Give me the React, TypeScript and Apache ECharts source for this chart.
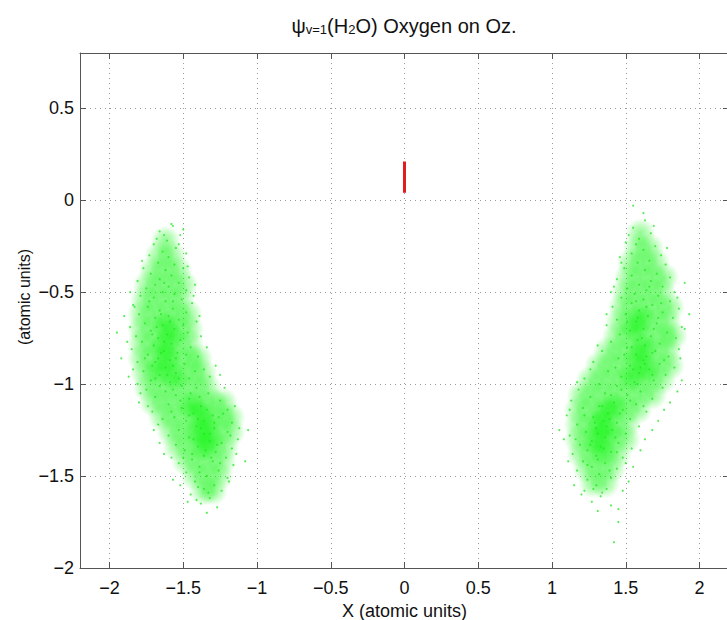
import React, { useEffect, useRef } from "react";
import * as echarts from "echarts";

// ---- data ----
const X_RANGE = [-2.2, 2.2];
const Y_RANGE = [-2, 0.8];

// red marker at x = 0
const redSegment: [number, number][] = [
  [0, 0.04],
  [0, 0.21],
];

// dense body of the left cloud (where the points pile up)
const leftBody: [number, number][] = [
  [-1.62, -0.22],
  [-1.66, -0.3], [-1.58, -0.3],
  [-1.7, -0.38], [-1.62, -0.38], [-1.54, -0.38],
  [-1.74, -0.46], [-1.66, -0.46], [-1.58, -0.46], [-1.5, -0.46],
  [-1.76, -0.54], [-1.68, -0.54], [-1.6, -0.54], [-1.52, -0.54],
  [-1.78, -0.62], [-1.7, -0.62], [-1.62, -0.62], [-1.54, -0.62], [-1.47, -0.62],
  [-1.78, -0.7], [-1.7, -0.7], [-1.62, -0.7], [-1.54, -0.7], [-1.46, -0.7],
  [-1.78, -0.78], [-1.7, -0.78], [-1.62, -0.78], [-1.54, -0.78], [-1.46, -0.78],
  [-1.78, -0.86], [-1.7, -0.86], [-1.62, -0.86], [-1.54, -0.86], [-1.46, -0.86], [-1.4, -0.86],
  [-1.76, -0.94], [-1.68, -0.94], [-1.6, -0.94], [-1.52, -0.94], [-1.44, -0.94], [-1.37, -0.94],
  [-1.74, -1.02], [-1.66, -1.02], [-1.58, -1.02], [-1.5, -1.02], [-1.42, -1.02], [-1.34, -1.02],
  [-1.7, -1.1], [-1.62, -1.1], [-1.54, -1.1], [-1.46, -1.1], [-1.38, -1.1], [-1.3, -1.1], [-1.23, -1.1],
  [-1.64, -1.18], [-1.56, -1.18], [-1.48, -1.18], [-1.4, -1.18], [-1.32, -1.18], [-1.24, -1.18], [-1.18, -1.18],
  [-1.58, -1.26], [-1.5, -1.26], [-1.42, -1.26], [-1.34, -1.26], [-1.26, -1.26], [-1.18, -1.26],
  [-1.54, -1.34], [-1.46, -1.34], [-1.38, -1.34], [-1.3, -1.34], [-1.22, -1.34],
  [-1.48, -1.42], [-1.4, -1.42], [-1.32, -1.42], [-1.24, -1.42],
  [-1.42, -1.5], [-1.34, -1.5], [-1.26, -1.5],
  [-1.36, -1.58], [-1.3, -1.58],
  [-1.64, -0.8], [-1.6, -0.86], [-1.66, -0.92], [-1.58, -0.74], [-1.62, -0.68], [-1.56, -0.96],
  [-1.38, -1.16], [-1.34, -1.22], [-1.4, -1.26], [-1.32, -1.3], [-1.44, -1.12], [-1.36, -1.34],
];

// dense body of the right cloud
const rightBody: [number, number][] = [
  [1.6, -0.18],
  [1.58, -0.26], [1.66, -0.26],
  [1.54, -0.34], [1.62, -0.34], [1.7, -0.34],
  [1.52, -0.42], [1.6, -0.42], [1.68, -0.42], [1.76, -0.42],
  [1.5, -0.5], [1.58, -0.5], [1.66, -0.5], [1.74, -0.5],
  [1.48, -0.58], [1.56, -0.58], [1.64, -0.58], [1.72, -0.58], [1.8, -0.58],
  [1.46, -0.66], [1.54, -0.66], [1.62, -0.66], [1.7, -0.66], [1.78, -0.66],
  [1.44, -0.74], [1.52, -0.74], [1.6, -0.74], [1.68, -0.74], [1.76, -0.74], [1.82, -0.74],
  [1.38, -0.82], [1.46, -0.82], [1.54, -0.82], [1.62, -0.82], [1.7, -0.82], [1.78, -0.82],
  [1.32, -0.9], [1.4, -0.9], [1.48, -0.9], [1.56, -0.9], [1.64, -0.9], [1.72, -0.9], [1.8, -0.9],
  [1.26, -0.98], [1.34, -0.98], [1.42, -0.98], [1.5, -0.98], [1.58, -0.98], [1.66, -0.98], [1.74, -0.98],
  [1.2, -1.06], [1.28, -1.06], [1.36, -1.06], [1.44, -1.06], [1.52, -1.06], [1.6, -1.06], [1.68, -1.06],
  [1.18, -1.14], [1.26, -1.14], [1.34, -1.14], [1.42, -1.14], [1.5, -1.14], [1.58, -1.14],
  [1.18, -1.22], [1.26, -1.22], [1.34, -1.22], [1.42, -1.22], [1.5, -1.22],
  [1.18, -1.3], [1.26, -1.3], [1.34, -1.3], [1.42, -1.3], [1.5, -1.3],
  [1.2, -1.38], [1.28, -1.38], [1.36, -1.38], [1.44, -1.38],
  [1.24, -1.46], [1.32, -1.46], [1.4, -1.46],
  [1.28, -1.54], [1.36, -1.54],
  [1.62, -0.8], [1.58, -0.86], [1.64, -0.92], [1.56, -0.7], [1.6, -0.64], [1.54, -0.96],
  [1.36, -1.16], [1.32, -1.22], [1.38, -1.26], [1.3, -1.3], [1.42, -1.12], [1.34, -1.36],
];

// individual speckles, left cloud
const leftSpeckles: [number, number][] = [
  [-1.58, -0.13], [-1.66, -0.17], [-1.52, -0.19], [-1.61, -0.22], [-1.7, -0.24], [-1.55, -0.26],
  [-1.64, -0.28], [-1.48, -0.29], [-1.73, -0.3], [-1.6, -0.31],
  [-1.78, -0.33], [-1.67, -0.34], [-1.56, -0.35], [-1.5, -0.37], [-1.62, -0.38], [-1.72, -0.4],
  [-1.58, -0.41], [-1.46, -0.42], [-1.66, -0.43], [-1.81, -0.44], [-1.53, -0.45], [-1.69, -0.46],
  [-1.6, -0.47], [-1.75, -0.48], [-1.48, -0.49], [-1.64, -0.5], [-1.56, -0.51], [-1.86, -0.5],
  [-1.42, -0.46],
  [-1.79, -0.52], [-1.7, -0.53], [-1.51, -0.54], [-1.62, -0.55], [-1.44, -0.56], [-1.84, -0.57],
  [-1.74, -0.58], [-1.57, -0.59], [-1.66, -0.6], [-1.48, -0.61], [-1.8, -0.62], [-1.6, -0.63],
  [-1.69, -0.64], [-1.53, -0.65], [-1.41, -0.66], [-1.76, -0.67], [-1.64, -0.68], [-1.86, -0.69],
  [-1.56, -0.7], [-1.72, -0.71], [-1.47, -0.72], [-1.61, -0.73], [-1.82, -0.74], [-1.67, -0.75],
  [-1.52, -0.76], [-1.38, -0.74], [-1.9, -0.63],
  [-1.78, -0.77], [-1.58, -0.78], [-1.7, -0.79], [-1.45, -0.8], [-1.85, -0.81], [-1.63, -0.82],
  [-1.54, -0.83], [-1.74, -0.84], [-1.4, -0.85], [-1.67, -0.86], [-1.59, -0.87], [-1.81, -0.88],
  [-1.49, -0.89], [-1.71, -0.9], [-1.62, -0.91], [-1.36, -0.92], [-1.77, -0.93], [-1.55, -0.94],
  [-1.66, -0.95], [-1.87, -0.96], [-1.46, -0.97], [-1.72, -0.98], [-1.59, -0.99], [-1.81, -1.0],
  [-1.51, -1.01], [-1.65, -0.83], [-1.57, -0.9], [-1.69, -0.97], [-1.32, -0.96], [-1.92, -0.86],
  [-1.41, -1.02], [-1.75, -1.03], [-1.62, -1.04], [-1.33, -1.05], [-1.55, -1.06], [-1.69, -1.07],
  [-1.46, -1.08], [-1.25, -1.09], [-1.8, -1.1], [-1.6, -1.11], [-1.38, -1.12], [-1.51, -1.13],
  [-1.2, -1.14], [-1.71, -1.15], [-1.43, -1.16], [-1.3, -1.17], [-1.56, -1.18], [-1.64, -1.19],
  [-1.36, -1.2], [-1.17, -1.21], [-1.48, -1.2], [-1.26, -1.18],
  [-1.67, -1.22], [-1.41, -1.23], [-1.29, -1.24], [-1.53, -1.25], [-1.2, -1.26], [-1.36, -1.27],
  [-1.6, -1.28], [-1.46, -1.29], [-1.13, -1.3], [-1.32, -1.31], [-1.24, -1.32], [-1.55, -1.33],
  [-1.4, -1.34], [-1.17, -1.35], [-1.49, -1.36], [-1.28, -1.37], [-1.63, -1.38], [-1.36, -1.39],
  [-1.21, -1.4], [-1.44, -1.41],
  [-1.3, -1.42], [-1.53, -1.43], [-1.16, -1.44], [-1.39, -1.45], [-1.26, -1.47], [-1.48, -1.48],
  [-1.34, -1.5], [-1.2, -1.51], [-1.42, -1.53], [-1.29, -1.55], [-1.57, -1.52], [-1.36, -1.57],
  [-1.24, -1.58], [-1.45, -1.6],
  [-1.32, -1.62], [-1.38, -1.65], [-1.27, -1.67], [-1.34, -1.7], [-1.41, -1.63],
  [-1.95, -0.72], [-1.06, -1.25], [-1.08, -1.42], [-1.5, -0.16], [-1.25, -0.95],
  [-1.83, -0.58], [-1.88, -0.77], [-1.84, -0.92], [-1.79, -1.05], [-1.74, -1.12], [-1.7, -1.25],
  [-1.66, -1.32], [-1.58, -1.4], [-1.52, -1.55], [-1.47, -1.64], [-1.19, -1.53], [-1.14, -1.38],
  [-1.12, -1.24], [-1.15, -1.12], [-1.22, -1.02], [-1.28, -0.9], [-1.34, -0.8], [-1.39, -0.63],
  [-1.43, -0.52], [-1.47, -0.36], [-1.53, -0.24], [-1.68, -0.21], [-1.77, -0.37], [-1.57, -0.14],
  [-1.63, -0.19],
  [-1.65, -0.62], [-1.59, -0.66], [-1.71, -0.73], [-1.63, -0.77], [-1.55, -0.86], [-1.69, -0.88],
  [-1.61, -0.95], [-1.53, -0.97], [-1.66, -1.01], [-1.57, -1.03], [-1.45, -1.05], [-1.39, -1.07],
  [-1.52, -1.09], [-1.34, -1.14], [-1.46, -1.17], [-1.4, -1.19], [-1.29, -1.21], [-1.38, -1.24],
  [-1.32, -1.27], [-1.43, -1.3], [-1.27, -1.33], [-1.35, -1.36], [-1.44, -1.38], [-1.31, -1.4],
  [-1.39, -1.48], [-1.25, -1.43], [-1.73, -0.55], [-1.63, -0.45], [-1.57, -0.55], [-1.68, -0.69],
  [-1.5, -0.68], [-1.76, -0.86], [-1.48, -0.84], [-1.42, -0.93], [-1.58, -1.15], [-1.23, -1.16],
  [-1.18, -1.28], [-1.5, -1.4], [-1.33, -1.59], [-1.4, -1.56],
];

// individual speckles, right cloud
const rightSpeckles: [number, number][] = [
  [1.63, -0.11], [1.55, -0.15], [1.67, -0.18], [1.59, -0.21], [1.5, -0.23], [1.7, -0.25],
  [1.62, -0.27], [1.54, -0.29], [1.74, -0.3], [1.46, -0.31],
  [1.66, -0.33], [1.58, -0.34], [1.77, -0.35], [1.49, -0.37], [1.63, -0.38], [1.71, -0.4],
  [1.54, -0.41], [1.8, -0.42], [1.44, -0.43], [1.67, -0.44], [1.59, -0.46], [1.75, -0.47],
  [1.51, -0.48], [1.64, -0.49], [1.83, -0.5], [1.4, -0.5], [1.56, -0.51],
  [1.72, -0.52], [1.47, -0.53], [1.62, -0.54], [1.8, -0.55], [1.54, -0.56], [1.68, -0.57],
  [1.41, -0.58], [1.86, -0.59], [1.59, -0.6], [1.75, -0.61], [1.5, -0.62], [1.65, -0.63],
  [1.82, -0.64], [1.44, -0.65], [1.57, -0.66], [1.71, -0.67], [1.37, -0.68], [1.88, -0.69],
  [1.62, -0.7], [1.53, -0.71], [1.78, -0.72], [1.46, -0.73], [1.67, -0.74], [1.84, -0.75],
  [1.58, -0.76], [1.93, -0.62],
  [1.4, -0.77], [1.73, -0.78], [1.63, -0.79], [1.51, -0.8], [1.86, -0.81], [1.34, -0.82],
  [1.68, -0.83], [1.57, -0.84], [1.79, -0.85], [1.45, -0.86], [1.62, -0.87], [1.28, -0.88],
  [1.73, -0.89], [1.53, -0.9], [1.83, -0.91], [1.66, -0.92], [1.38, -0.93], [1.59, -0.94],
  [1.77, -0.95], [1.47, -0.96], [1.22, -0.97], [1.69, -0.98], [1.56, -0.99], [1.88, -0.98],
  [1.32, -1.0], [1.64, -0.85], [1.6, -0.91],
  [1.44, -1.01], [1.75, -1.02], [1.18, -1.03], [1.6, -1.04], [1.36, -1.05], [1.51, -1.06],
  [1.26, -1.07], [1.68, -1.08], [1.13, -1.09], [1.42, -1.1], [1.57, -1.11], [1.32, -1.12],
  [1.8, -1.1], [1.21, -1.13], [1.48, -1.14], [1.64, -1.15], [1.38, -1.16], [1.1, -1.17],
  [1.28, -1.18], [1.53, -1.19], [1.35, -1.2], [1.44, -1.21],
  [1.17, -1.22], [1.59, -1.23], [1.3, -1.24], [1.41, -1.25], [1.23, -1.26], [1.5, -1.27],
  [1.12, -1.28], [1.36, -1.29], [1.63, -1.3], [1.27, -1.31], [1.45, -1.32], [1.19, -1.33],
  [1.33, -1.34], [1.54, -1.35], [1.24, -1.36], [1.4, -1.37], [1.14, -1.38], [1.3, -1.39],
  [1.48, -1.4],
  [1.21, -1.42], [1.36, -1.43], [1.27, -1.45], [1.44, -1.46], [1.17, -1.47], [1.32, -1.49],
  [1.4, -1.51], [1.24, -1.52], [1.52, -1.53], [1.3, -1.55], [1.37, -1.57], [1.22, -1.58],
  [1.33, -1.61], [1.27, -1.64], [1.4, -1.66], [1.31, -1.69], [1.45, -1.75], [1.42, -1.86],
  [1.05, -1.25], [1.9, -0.45], [1.72, -1.2], [1.55, -0.03], [1.2, -1.6],
  [1.85, -0.53], [1.9, -0.7], [1.87, -0.86], [1.85, -1.04], [1.76, -1.14], [1.68, -1.25],
  [1.6, -1.36], [1.55, -1.45], [1.48, -1.58], [1.45, -1.68], [1.15, -1.55], [1.11, -1.42],
  [1.08, -1.3], [1.12, -1.14], [1.17, -0.99], [1.26, -0.92], [1.31, -0.79], [1.37, -0.62],
  [1.42, -0.47], [1.47, -0.34], [1.52, -0.19], [1.69, -0.14], [1.78, -0.26], [1.62, -0.07],
  [1.57, -0.24],
  [1.64, -0.58], [1.58, -0.64], [1.69, -0.7], [1.61, -0.75], [1.54, -0.8], [1.7, -0.82],
  [1.63, -0.89], [1.55, -0.92], [1.68, -0.95], [1.58, -1.0], [1.47, -1.03], [1.4, -1.06],
  [1.53, -1.09], [1.34, -1.12], [1.46, -1.16], [1.39, -1.19], [1.29, -1.21], [1.37, -1.23],
  [1.31, -1.27], [1.43, -1.29], [1.26, -1.33], [1.35, -1.35], [1.44, -1.37], [1.31, -1.41],
  [1.39, -1.47], [1.24, -1.44], [1.74, -0.56], [1.66, -0.47], [1.57, -0.55], [1.72, -0.64],
  [1.51, -0.66], [1.76, -0.87], [1.49, -0.84], [1.43, -0.91], [1.62, -1.12], [1.22, -1.17],
  [1.16, -1.3], [1.5, -1.43], [1.34, -1.59], [1.28, -1.57],
];

const X_NAME = "X (atomic units)";
const Y_NAME = "(atomic units)";

const FONT = "'Liberation Sans', Arial, Helvetica, sans-serif";

const fmt = (v: number) => {
  const r = Math.round(v * 10) / 10;
  return String(r).replace("-", "\u2212");
};

export default function App() {
  const ref = useRef<HTMLDivElement>(null);

  useEffect(() => {
    if (!ref.current) return;
    const chart = echarts.init(ref.current, null, { renderer: "svg" });

    const axisLine = { show: true, onZero: false, lineStyle: { color: "#555", width: 1 } };
    const tick = { show: true, inside: true, length: 6, lineStyle: { color: "#555", width: 1 } };
    const split = { show: true, lineStyle: { color: "#9a9a9a", width: 1, type: [1, 4] as any } };
    const bodyAll = [...leftBody, ...rightBody];

    const softGreen = {
      type: "radial",
      x: 0.5,
      y: 0.5,
      r: 0.5,
      colorStops: [
        { offset: 0, color: "rgba(0, 245, 0, 0.55)" },
        { offset: 0.5, color: "rgba(0, 245, 0, 0.32)" },
        { offset: 1, color: "rgba(0, 245, 0, 0)" },
      ],
    };

    chart.setOption({
      animation: false,
      backgroundColor: "#ffffff",
      grid: {
        left: 80,
        right: -2,
        top: 53,
        bottom: 52,
        containLabel: false,
        outerBoundsMode: "none",
      },
      graphic: [
        {
          type: "text",
          x: 404,
          y: 24,
          style: {
            text: "{m|\u03c8}{s|v=1}{m|(H}{s|2}{m|O) Oxygen on Oz.}",
            align: "center",
            verticalAlign: "middle",
            rich: {
              m: { fontFamily: FONT, fontSize: 20, lineHeight: 24, fill: "#111", verticalAlign: "bottom" },
              s: { fontFamily: FONT, fontSize: 13, lineHeight: 9, fill: "#111", verticalAlign: "bottom" },
            },
          },
        },
        {
          type: "text",
          x: 24,
          y: 297,
          rotation: Math.PI / 2,
          style: {
            text: Y_NAME,
            align: "center",
            verticalAlign: "middle",
            fontFamily: FONT,
            fontSize: 16,
            fill: "#111",
          },
        },
      ],
      xAxis: [
        {
          type: "value",
          min: X_RANGE[0],
          max: X_RANGE[1],
          splitNumber: 8,
          position: "bottom",
          axisLine,
          axisTick: tick,
          splitLine: split,
          axisLabel: {
            showMinLabel: false,
            showMaxLabel: false,
            formatter: fmt,
            fontFamily: FONT,
            fontSize: 18,
            color: "#111",
            margin: 11,
          },
          name: X_NAME,
          nameLocation: "middle",
          nameGap: 29,
          nameTextStyle: { fontFamily: FONT, fontSize: 18, color: "#111" },
        },
        {
          type: "value",
          min: X_RANGE[0],
          max: X_RANGE[1],
          splitNumber: 8,
          position: "top",
          axisLine,
          axisTick: tick,
          splitLine: { show: false },
          axisLabel: { show: false },
        },
      ],
      yAxis: [
        {
          type: "value",
          min: Y_RANGE[0],
          max: Y_RANGE[1],
          interval: 0.5,
          position: "left",
          axisLine,
          axisTick: tick,
          splitLine: split,
          axisLabel: {
            showMaxLabel: false,
            formatter: fmt,
            fontFamily: FONT,
            fontSize: 18,
            color: "#111",
            margin: 6,
          },
        },
        {
          type: "value",
          min: Y_RANGE[0],
          max: Y_RANGE[1],
          interval: 0.5,
          position: "right",
          axisLine,
          axisTick: tick,
          splitLine: { show: false },
          axisLabel: { show: false },
        },
      ],
      series: [
        {
          type: "scatter",
          name: "body",
          data: bodyAll,
          symbol: "circle",
          symbolSize: 30,
          itemStyle: { color: softGreen as any },
          silent: true,
        },
        {
          type: "scatter",
          name: "speckles",
          data: [...leftSpeckles, ...rightSpeckles],
          symbol: "circle",
          symbolSize: 2.2,
          itemStyle: { color: "#22e822", opacity: 0.75 },
          silent: true,
        },
        {
          type: "line",
          name: "marker",
          data: redSegment,
          showSymbol: false,
          lineStyle: { color: "#e01e1e", width: 3 },
          silent: true,
        },
      ],
    });

    return () => chart.dispose();
  }, []);

  return (
    <div
      ref={ref}
      style={{ position: "fixed", left: 0, top: 0, width: 727, height: 620, background: "#fff" }}
    />
  );
}
